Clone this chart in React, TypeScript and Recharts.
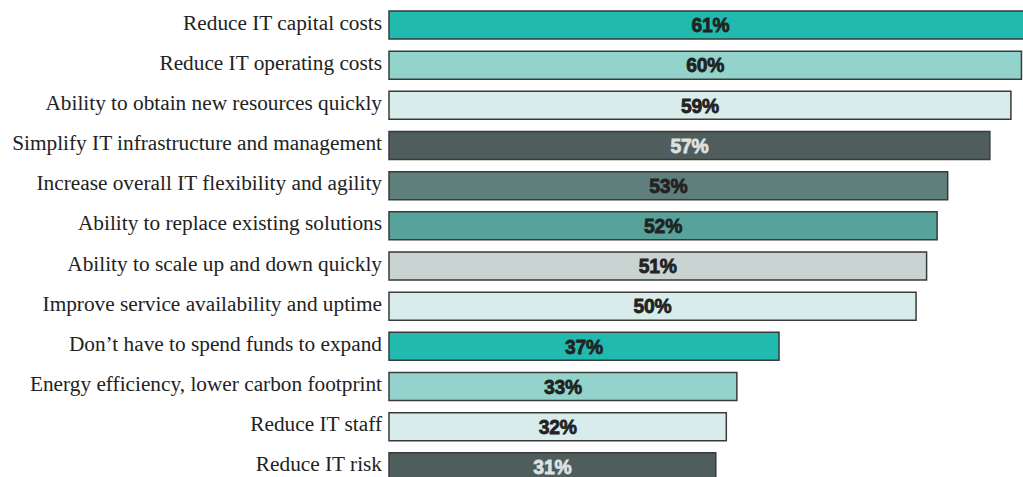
import { BarChart, Bar, XAxis, YAxis, Cell, LabelList } from 'recharts';

const categories = [
  'Reduce IT capital costs',
  'Reduce IT operating costs',
  'Ability to obtain new resources quickly',
  'Simplify IT infrastructure and management',
  'Increase overall IT flexibility and agility',
  'Ability to replace existing solutions',
  'Ability to scale up and down quickly',
  'Improve service availability and uptime',
  'Don\u2019t have to spend funds to expand',
  'Energy efficiency, lower carbon footprint',
  'Reduce IT staff',
  'Reduce IT risk',
];

const values = [61, 60, 59, 57, 53, 52, 51, 50, 37, 33, 32, 31];

const barColors = [
  '#20bbae', '#92d4cb', '#d8edeb', '#4f5d5d',
  '#5e7f7c', '#57a39b', '#c9d3d1', '#d8edeb',
  '#20bbae', '#92d4cb', '#d8edeb', '#4f5d5d',
];

// dark bars get a light label
const labelColors = [
  '#222', '#222', '#222', '#dde2e2',
  '#222', '#222', '#222', '#222',
  '#222', '#222', '#222', '#dde2e2',
];

const data = categories.map((name, i) => ({ name, value: values[i], idx: i }));

function CategoryTick(props: any) {
  const { x, y, payload } = props;
  return (
    <text
      x={x}
      y={y}
      dy={4.5}
      textAnchor="end"
      fill="#222"
      fontFamily="'Liberation Serif', serif"
      fontSize={21.3}
    >
      {payload.value}
    </text>
  );
}

// condensed black look: squeeze Liberation Sans Bold and thicken with a stroke
function ValueLabel(props: any) {
  const { x, y, width, height, value, index } = props;
  const cx = x + width / 2;
  const cy = y + height / 2;
  const color = labelColors[index];
  return (
    <text
      transform={`translate(${cx}, ${cy + 7.3}) scale(0.92, 1)`}
      textAnchor="middle"
      fill={color}
      stroke={color}
      strokeWidth={0.8}
      style={{ fontFamily: "'Liberation Sans', Arial, sans-serif", fontWeight: 700, fontSize: 21 }}
      letterSpacing={-0.2}
    >
      {`${value}%`}
    </text>
  );
}

export default function App() {
  return (
    <div
      style={{
        position: 'fixed',
        left: 0,
        top: 0,
        width: 1023,
        height: 477,
        overflow: 'hidden',
        background: '#fff',
      }}
    >
      <BarChart
        width={1032}
        height={490}
        data={data}
        layout="vertical"
        margin={{ top: 5, right: 0, bottom: 3, left: 0 }}
        barCategoryGap={0}
      >
        <XAxis type="number" domain={[0, 61]} hide />
        <YAxis
          type="category"
          dataKey="name"
          width={389}
          axisLine={false}
          tickLine={false}
          tickSize={0}
          tickMargin={7}
          interval={0}
          tick={<CategoryTick />}
        />
        <Bar
          dataKey="value"
          barSize={28}
          stroke="#3a3a3a"
          strokeWidth={1.5}
          isAnimationActive={false}
        >
          {data.map((d) => (
            <Cell key={d.name} fill={barColors[d.idx]} />
          ))}
          <LabelList dataKey="value" content={<ValueLabel />} />
        </Bar>
      </BarChart>
    </div>
  );
}
